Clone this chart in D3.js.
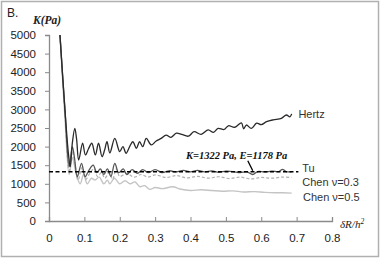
<!DOCTYPE html>
<html>
<head>
<meta charset="utf-8">
<script src="https://cdn.jsdelivr.net/npm/d3@7"></script>
<style>
  body { margin: 0; background: #fff; }
  svg { display: block; }
</style>
</head>
<body>
<div id="chart"></div>
<script>
// data (x = deltaR/h^2, y = K in Pa)
const hertzX = [0.031,0.045,0.055,0.060,0.066,0.073,0.078,0.084,0.095,0.103,0.112,0.121,0.131,0.140,0.150,0.157,0.164,0.172,0.186,0.200,0.209,0.218,0.228,0.237,0.247,0.256,0.265,0.275,0.289,0.303,0.317,0.331,0.345,0.360,0.375,0.394,0.410,0.430,0.450,0.465,0.478,0.495,0.507,0.525,0.544,0.550,0.558,0.572,0.587,0.600,0.615,0.634,0.657,0.671,0.681,0.686]
const hertzK = [5000,3000,1800,1460,2100,2490,2200,1640,2090,1775,1950,2090,1775,2090,1730,1900,2130,1830,2220,1865,2000,1820,2000,2130,1955,2130,2000,2220,2045,2150,2220,2310,2250,2360,2330,2280,2400,2330,2450,2380,2490,2460,2560,2520,2640,2480,2580,2490,2630,2590,2670,2720,2760,2850,2800,2880]

const tuX = [0.031,0.045,0.057,0.066,0.072,0.080,0.092,0.102,0.112,0.125,0.135,0.145,0.155,0.165,0.175,0.186,0.197,0.210,0.220,0.235,0.250,0.265,0.280,0.300,0.320,0.340,0.360,0.380,0.400,0.420,0.440,0.460,0.480,0.500,0.520,0.540,0.560,0.576,0.590,0.610,0.630,0.650,0.660,0.670,0.686]
const tuK = [5000,3000,1460,2000,1700,1190,1550,1190,1350,1500,1300,1400,1250,1400,1200,1550,1300,1400,1250,1380,1280,1380,1300,1380,1300,1350,1320,1360,1320,1360,1320,1350,1310,1340,1330,1300,1320,1250,1330,1320,1340,1330,1390,1330,1320]

const chen3X = [0.031,0.045,0.057,0.066,0.074,0.082,0.094,0.104,0.115,0.127,0.137,0.148,0.158,0.170,0.180,0.190,0.200,0.220,0.240,0.260,0.280,0.300,0.330,0.360,0.390,0.420,0.450,0.480,0.510,0.540,0.570,0.600,0.630,0.660,0.686]
const chen3K = [5000,2900,1350,1850,1500,1100,1450,1120,1280,1400,1200,1300,1150,1300,1120,1400,1200,1280,1180,1250,1180,1240,1170,1220,1160,1200,1150,1190,1140,1180,1130,1170,1150,1180,1170]

const chen5X = [0.031,0.045,0.057,0.066,0.076,0.088,0.098,0.108,0.120,0.130,0.142,0.155,0.165,0.172,0.185,0.200,0.215,0.229,0.243,0.257,0.270,0.285,0.300,0.320,0.350,0.370,0.400,0.430,0.460,0.490,0.520,0.550,0.580,0.610,0.640,0.660,0.686]
const chen5K = [5000,2800,1250,1700,1300,1000,1250,1000,1150,1100,1180,1000,1100,1000,1150,1000,1080,1000,1050,920,950,850,900,870,920,860,820,840,820,800,810,780,790,770,760,760,750]

const fitK = 1322
const fitX = [0, 0.705]
const xTicks = [0,0.1,0.2,0.3,0.4,0.5,0.6,0.7,0.8]
const yTicks = [0,500,1000,1500,2000,2500,3000,3500,4000,4500,5000]

const width = 380, height = 258

const svg = d3.select("#chart")
  .append("svg")
    .attr("width", width)
    .attr("height", height)

// outer frame
svg.append("rect")
  .attr("x", 1.5).attr("y", 1.5)
  .attr("width", width - 3).attr("height", height - 3)
  .attr("fill", "#fff")
  .attr("stroke", "#b0b0b0")
  .attr("stroke-width", 1.5)

const x = d3.scaleLinear().domain([0, 0.8]).range([49, 332])
const y = d3.scaleLinear().domain([0, 5000]).range([221, 35])

// axes
const yAxis = svg.append("g")
  .attr("transform", `translate(${x(0)},0)`)
  .call(d3.axisLeft(y).tickValues(yTicks).tickSize(4).tickPadding(9).tickFormat(d3.format("d")))
const xAxis = svg.append("g")
  .attr("transform", `translate(0,${y(0)})`)
  .call(d3.axisBottom(x).tickValues(xTicks).tickSize(-4).tickPadding(13).tickFormat(d => d === 0 ? "0" : d3.format(".1f")(d)))

;[yAxis, xAxis].forEach(a => {
  a.select(".domain").attr("stroke", "#8a8a8a").attr("stroke-width", 1.3)
  a.selectAll(".tick line").attr("stroke", "#8a8a8a").attr("stroke-width", 1)
  a.selectAll(".tick text")
    .attr("fill", "#222")
    .style("font-family", "'Liberation Sans', Arial, sans-serif")
    .style("font-size", "11.5px")
})
xAxis.selectAll(".tick line").attr("y2", -4)

const line = d3.line()
  .x(d => x(d[0]))
  .y(d => y(d[1]))
  .curve(d3.curveCatmullRom.alpha(0.5))

const series = [
  {xs: chen5X, ks: chen5K, color: "#c4c4c4", width: 1.4, dash: null},
  {xs: chen3X, ks: chen3K, color: "#b0b0b0", width: 1.2, dash: "3,2"},
  {xs: tuX, ks: tuK, color: "#555", width: 1.3, dash: null},
  {xs: hertzX, ks: hertzK, color: "#2a2a2a", width: 1.3, dash: null}
]

svg.selectAll("path.series")
  .data(series)
  .join("path")
    .attr("class", "series")
    .attr("d", s => line(s.xs.map((v, i) => [v, s.ks[i]])))
    .attr("fill", "none")
    .attr("stroke", s => s.color)
    .attr("stroke-width", s => s.width)
    .attr("stroke-dasharray", s => s.dash)

// fitted K line
svg.append("line")
  .attr("x1", x(fitX[0])).attr("x2", x(fitX[1]))
  .attr("y1", y(fitK)).attr("y2", y(fitK))
  .attr("stroke", "#000")
  .attr("stroke-width", 1.4)
  .attr("stroke-dasharray", "4,2.5")

// leader to the fit line
svg.append("line")
  .attr("x1", x(0.562)).attr("y1", y(fitK) - 11)
  .attr("x2", x(0.576)).attr("y2", y(fitK) - 1)
  .attr("stroke", "#000")
  .attr("stroke-width", 1.3)

const sans = "'Liberation Sans', Arial, sans-serif"
const serif = "'Liberation Serif', 'Times New Roman', serif"

svg.append("text")
  .attr("x", 7).attr("y", 17)
  .style("font-family", sans).style("font-size", "12px")
  .attr("fill", "#222")
  .text("B.")

svg.append("text")
  .attr("x", 33).attr("y", 24)
  .style("font-family", serif).style("font-size", "11.5px")
  .style("font-weight", "bold").style("font-style", "italic")
  .attr("fill", "#222")
  .text("K(Pa)")

const xt = svg.append("text")
  .attr("x", 340).attr("y", 228)
  .style("font-family", serif).style("font-size", "11px")
  .style("font-style", "italic")
  .attr("fill", "#222")
xt.append("tspan").text("δR/h")
xt.append("tspan").attr("dy", -4).style("font-size", "7.5px").text("2")

svg.append("text")
  .attr("x", 186).attr("y", 159)
  .style("font-family", serif).style("font-size", "10.5px")
  .style("font-weight", "bold").style("font-style", "italic")
  .attr("fill", "#111")
  .text("K=1322 Pa, E=1178 Pa")

// series labels
const labelText = ["Hertz", "Tu", "Chen ν=0.3", "Chen ν=0.5"]
const labelK = [2880, 1322, 1150, 750]
const labelX = [0.705, 0.716, 0.716, 0.718]
const labelDy = [4, 0, 8, 8]
svg.selectAll("text.lab")
  .data(labelText)
  .join("text")
    .attr("class", "lab")
    .attr("x", (d, i) => x(labelX[i]))
    .attr("y", (d, i) => y(labelK[i]) + labelDy[i])
    .style("font-family", sans).style("font-size", "11px")
    .attr("fill", "#333")
    .text(d => d)
</script>
</body>
</html>
